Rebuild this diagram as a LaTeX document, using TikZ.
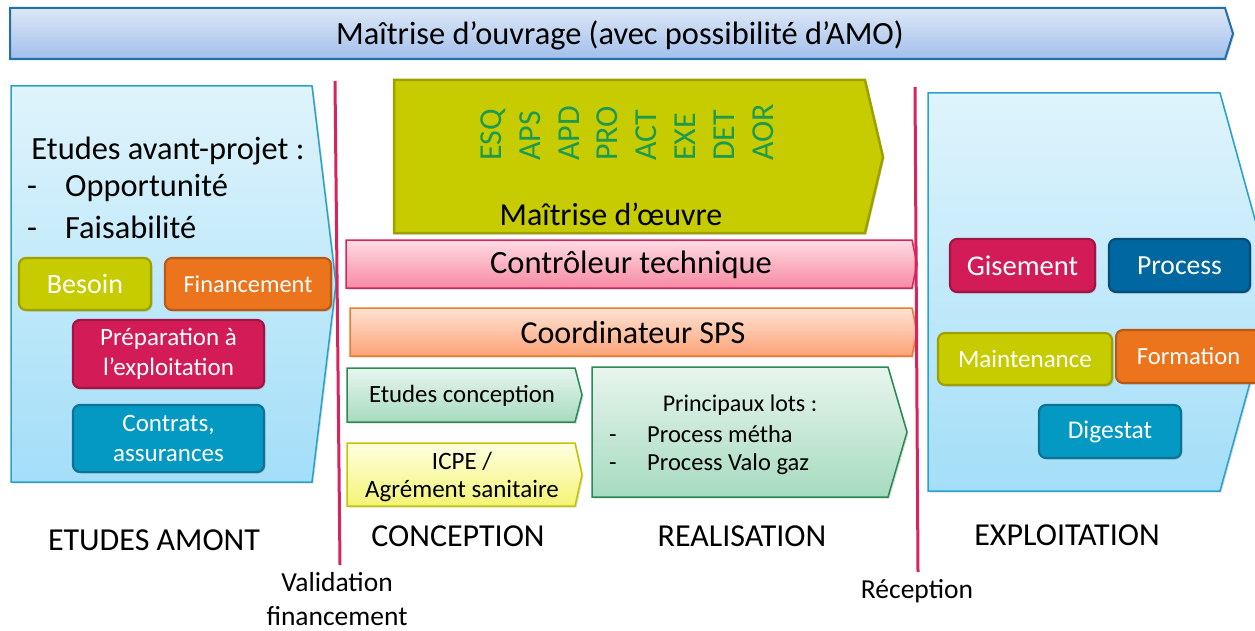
\documentclass[tikz,border=0pt]{standalone}
\usepackage{fontspec}
\setmainfont{Carlito}
\usetikzlibrary{shadows}
\definecolor{banTop}{HTML}{DDE7F7}
\definecolor{banBot}{HTML}{A2BFEB}
\definecolor{banLine}{HTML}{2270A8}
\definecolor{chevTop}{HTML}{DFF4FC}
\definecolor{chevBot}{HTML}{A3DEF8}
\definecolor{chevLine}{HTML}{2AA3CA}
\definecolor{oliveF}{HTML}{C6CC00}
\definecolor{oliveL}{HTML}{9CA100}
\definecolor{orangeF}{HTML}{EC741C}
\definecolor{orangeL}{HTML}{B65A16}
\definecolor{crimF}{HTML}{D31C57}
\definecolor{crimL}{HTML}{A11545}
\definecolor{tealF}{HTML}{0399C3}
\definecolor{tealL}{HTML}{0C7396}
\definecolor{dblueF}{HTML}{0067A0}
\definecolor{dblueL}{HTML}{054E7A}
\definecolor{redLine}{HTML}{D6245F}
\definecolor{phaseGreen}{HTML}{1E9A50}
\definecolor{pinkTop}{HTML}{FFDCE4}
\definecolor{pinkBot}{HTML}{F78AA2}
\definecolor{pinkLine}{HTML}{D8245E}
\definecolor{orTop}{HTML}{FFE3D4}
\definecolor{orBot}{HTML}{FBA276}
\definecolor{orLine}{HTML}{EE7A2C}
\definecolor{grTop}{HTML}{E8F5EE}
\definecolor{grBot}{HTML}{A6DBBF}
\definecolor{grLine}{HTML}{2A8A55}
\definecolor{yeTop}{HTML}{FFFFE2}
\definecolor{yeBot}{HTML}{F4F475}
\definecolor{yeLine}{HTML}{C6C600}
\begin{document}
\begin{tikzpicture}[x=1pt,y=-1pt,
  shad/.style={drop shadow={shadow xshift=1.5pt,shadow yshift=-1.5pt,opacity=0.25,fill=black!60}},
  chip/.style={rounded corners=7pt,line width=2.2pt,text=white,align=center,inner sep=0pt,anchor=center,shad},
  lbl/.style={inner sep=0pt,anchor=center,align=center,text=black},
  phase/.style={rotate=90,anchor=west,inner sep=0pt,text=phaseGreen,font=\fontsize{32}{32}\selectfont,text height=0.64em,text depth=0pt},
  sep/.style={draw=redLine,line width=3pt}]
\useasboundingbox (0,0) rectangle (1255,631);
% top banner
\path[draw=banLine,line width=2pt,top color=banTop,bottom color=banBot,shad]
  (10,8) -- (1225,8) -- (1233,33.5) -- (1225,59) -- (10,59) -- cycle;
\node[lbl,font=\fontsize{32.4}{32}\selectfont] (moa) at (620,35) {Maîtrise d’ouvrage (avec possibilité d’AMO)};
% left chevron
\path[draw=chevLine,line width=1.5pt,top color=chevTop,bottom color=chevBot,shad]
  (11,86) -- (312,86) -- (336,284) -- (312,482) -- (11,482) -- cycle;
\node[lbl,font=\fontsize{32.4}{32}\selectfont] (eap) at (168,151) {Etudes avant-projet :};
\node[lbl,font=\fontsize{32.4}{32}\selectfont,anchor=west] (opp) at (27,188) {\makebox[38pt][l]{-}Opportunité};
\node[lbl,font=\fontsize{32.4}{32}\selectfont,anchor=west] (fai) at (27,227) {\makebox[38pt][l]{-}Faisabilité};
\node[chip,fill=oliveF,draw=oliveL,minimum width=132pt,minimum height=52pt,font=\fontsize{28}{28}\selectfont] (besoin) at (85,284) {Besoin};
\node[chip,fill=orangeF,draw=orangeL,minimum width=166pt,minimum height=52pt,font=\fontsize{24.4}{24}\selectfont] (fin) at (248,284) {Financement};
\node[chip,fill=crimF,draw=crimL,minimum width=191pt,minimum height=68pt,font=\fontsize{25}{30}\selectfont] (prep) at (168.5,354) {Préparation à\\l’exploitation};
\node[chip,fill=tealF,draw=tealL,minimum width=191pt,minimum height=67pt,font=\fontsize{25}{29.5}\selectfont] (contr) at (168.5,438.5) {Contrats,\\assurances};
% right chevron
\path[draw=chevLine,line width=1.5pt,top color=chevTop,bottom color=chevBot,shad]
  (928,93) -- (1220,93) -- (1275,292) -- (1220,491) -- (928,491) -- cycle;
\node[chip,fill=crimF,draw=crimL,minimum width=145pt,minimum height=53pt,font=\fontsize{28.6}{28}\selectfont] (gis) at (1022.5,265.5) {Gisement};
\node[chip,fill=dblueF,draw=dblueL,minimum width=141pt,minimum height=53pt,font=\fontsize{27.6}{28}\selectfont] (proc) at (1179.5,265.5) {Process};
\node[chip,fill=oliveF,draw=oliveL,minimum width=174pt,minimum height=52pt,font=\fontsize{25}{25}\selectfont] (maint) at (1025,359) {Maintenance};
\node[chip,fill=orangeF,draw=orangeL,minimum width=145pt,minimum height=53pt,font=\fontsize{24.6}{25}\selectfont,anchor=west] (form) at (1115,356.5) {Formation};
\node[chip,fill=tealF,draw=tealL,minimum width=142pt,minimum height=53pt,font=\fontsize{25.5}{25}\selectfont] (dig) at (1110,431.5) {Digestat};
% maitrise d'oeuvre
\path[draw=oliveL,line width=2.5pt,fill=oliveF,shad]
  (394,80) -- (865,80) -- (883,157) -- (865,233) -- (394,233) -- cycle;
\node[phase] (esq) at (498,161) {ESQ};
\node[phase] (aps) at (537,161) {APS};
\node[phase] (apd) at (576,161) {APD};
\node[phase] (pro) at (614,161) {PRO};
\node[phase] (act) at (653,161) {ACT};
\node[phase] (exe) at (692,161) {EXE};
\node[phase] (det) at (731,161) {DET};
\node[phase] (aor) at (770,161) {AOR};
\node[lbl,font=\fontsize{32}{32}\selectfont] (moe) at (611,214) {Maîtrise d’œuvre};
% controleur
\path[draw=pinkLine,line width=1.5pt,top color=pinkTop,bottom color=pinkBot,shad]
  (346,240) -- (912,240) -- (917,264) -- (912,288) -- (346,288) -- cycle;
\node[lbl,font=\fontsize{32.5}{32}\selectfont] (ct) at (631,265) {Contrôleur technique};
\path[draw=orLine,line width=1.5pt,top color=orTop,bottom color=orBot,shad]
  (350,308) -- (912,308) -- (917,332) -- (912,356) -- (350,356) -- cycle;
\node[lbl,font=\fontsize{32}{32}\selectfont] (sps) at (633,333) {Coordinateur SPS};
% conception boxes
\path[draw=grLine,line width=1.5pt,top color=grTop,bottom color=grBot,shad]
  (347,368) -- (575,368) -- (582,395) -- (575,422) -- (347,422) -- cycle;
\node[lbl,font=\fontsize{24.8}{25}\selectfont] (etc) at (462,396) {Etudes conception};
\path[draw=yeLine,line width=1.5pt,top color=yeTop,bottom color=yeBot,shad]
  (347,443) -- (575,443) -- (582,474.5) -- (575,506) -- (347,506) -- cycle;
\node[lbl,font=\fontsize{25}{27.5}\selectfont] (icpe) at (462,477) {ICPE /\\Agrément sanitaire};
\path[draw=grLine,line width=1.5pt,top color=grTop,bottom color=grBot,shad]
  (592,367) -- (888,367) -- (907,432) -- (888,497) -- (592,497) -- cycle;
\node[lbl,font=\fontsize{24}{24}\selectfont] (plots) at (740,405) {Principaux lots :};
\node[lbl,font=\fontsize{24.5}{24}\selectfont,anchor=west] (pm) at (609,434) {\makebox[38pt][l]{-}Process métha};
\node[lbl,font=\fontsize{24.5}{24}\selectfont,anchor=west] (pv) at (609,464) {\makebox[38pt][l]{-}Process Valo gaz};
% separators
\coordinate (s1t) at (335,81);
\coordinate (s1b) at (340,565);
\coordinate (s2t) at (915,87);
\coordinate (s2b) at (918,572);
\draw[sep] (s1t) -- (s1b);
\draw[sep] (s2t) -- (s2b);
% phase labels
\node[lbl,font=\fontsize{32}{32}\selectfont] (am) at (154,540) {ETUDES AMONT};
\node[lbl,font=\fontsize{32}{32}\selectfont] (conc) at (458,536) {CONCEPTION};
\node[lbl,font=\fontsize{32}{32}\selectfont] (real) at (742,536) {REALISATION};
\node[lbl,font=\fontsize{32}{32}\selectfont] (expl) at (1067,535) {EXPLOITATION};
\node[lbl,font=\fontsize{27.5}{34}\selectfont] (valid) at (337,599) {Validation\\financement};
\node[lbl,font=\fontsize{27.5}{28}\selectfont] (recep) at (917,591) {Réception};
\end{tikzpicture}
\end{document}
